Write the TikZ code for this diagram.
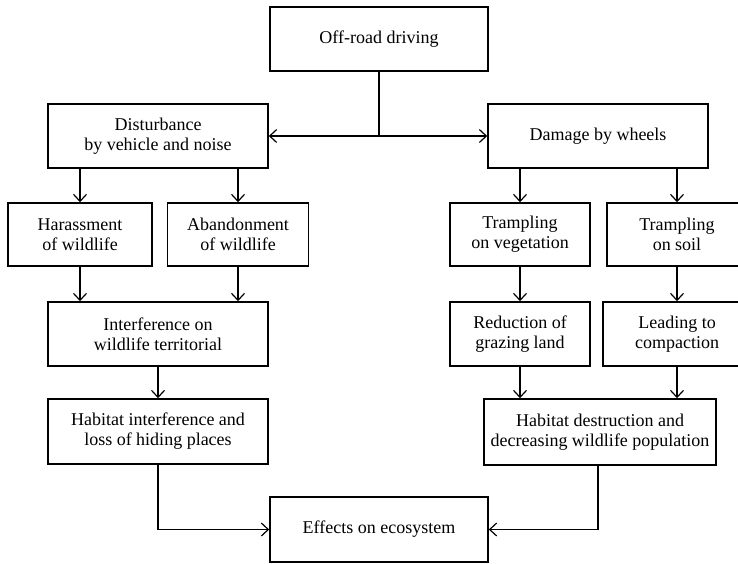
\documentclass[tikz,border=0pt]{standalone}
\usepackage{fontspec}
\setmainfont{Liberation Serif}
\usetikzlibrary{arrows.meta}

\begin{document}
\begin{tikzpicture}
	[x=1pt, y=-1pt, line width=1.2pt,
	 >={Straight Barb[length=7pt,width=13pt]},
	 main/.style = {draw, rectangle, line width=1.6pt, minimum height=64pt, inner sep=1pt, align=center, font=\fontsize{18}{20}\selectfont}]
	\useasboundingbox (0,0) rectangle (738,563);
	% top
	\node[main, minimum width=218pt] (drive) at (379,39) {Off-road driving};
	\node[main, minimum width=220pt] (dist) at (158,136) {Disturbance\\by vehicle and noise};
	\node[main, minimum width=220pt] (dmg) at (598,136) {Damage by wheels};
	% left branch
	\node[main, minimum width=144pt, minimum height=63pt] (har) at (80,234.5) {Harassment\\of wildlife};
	\node[main, minimum width=141pt, minimum height=63pt] (aban) at (238,234.5) {Abandonment\\of wildlife};
	\node[main, minimum width=220pt] (inter) at (158,334) {Interference on\\wildlife territorial};
	\node[main, minimum width=220pt, minimum height=65pt] (hint) at (158,431.5) {Habitat interference and\\loss of hiding places};
	% right branch
	\node[main, minimum width=140pt, minimum height=63pt] (tveg) at (520,234.5) {Trampling\\on vegetation};
	\node[main, minimum width=140pt, minimum height=63pt] (tsoil) at (677,234.5) {Trampling\\on soil};
	\node[main, minimum width=140pt] (redu) at (520,334) {Reduction of\\grazing land};
	\node[main, minimum width=148pt] (lead) at (677,334) {Leading to\\compaction};
	\node[main, minimum width=232pt, minimum height=66pt] (hdes) at (600,432) {Habitat destruction and\\decreasing wildlife population};
	% bottom
	\node[main, minimum width=218pt, minimum height=65pt] (eff) at (379,529.5) {Effects on ecosystem};
	\coordinate (split) at (drive |- dist);
	\draw (drive) -- (split);
	\draw[->] (split) -- (dist);
	\draw[->] (split) -- (dmg);
	\draw[->] (har |- dist.south) -- (har);
	\draw[->] (aban |- dist.south) -- (aban);
	\draw[->] (tveg |- dmg.south) -- (tveg);
	\draw[->] (tsoil |- dmg.south) -- (tsoil);
	\draw[->] (har) -- (har |- inter.north);
	\draw[->] (aban) -- (aban |- inter.north);
	\draw[->] (inter) -- (hint);
	\draw[->] (tveg) -- (redu);
	\draw[->] (tsoil) -- (lead);
	\draw[->] (redu) -- (redu |- hdes.north);
	\draw[->] (lead) -- (lead |- hdes.north);
	\draw[->] (hint) |- (eff);
	\draw[->] (hdes.south -| 598,0) |- (eff);
\end{tikzpicture}
\end{document}
